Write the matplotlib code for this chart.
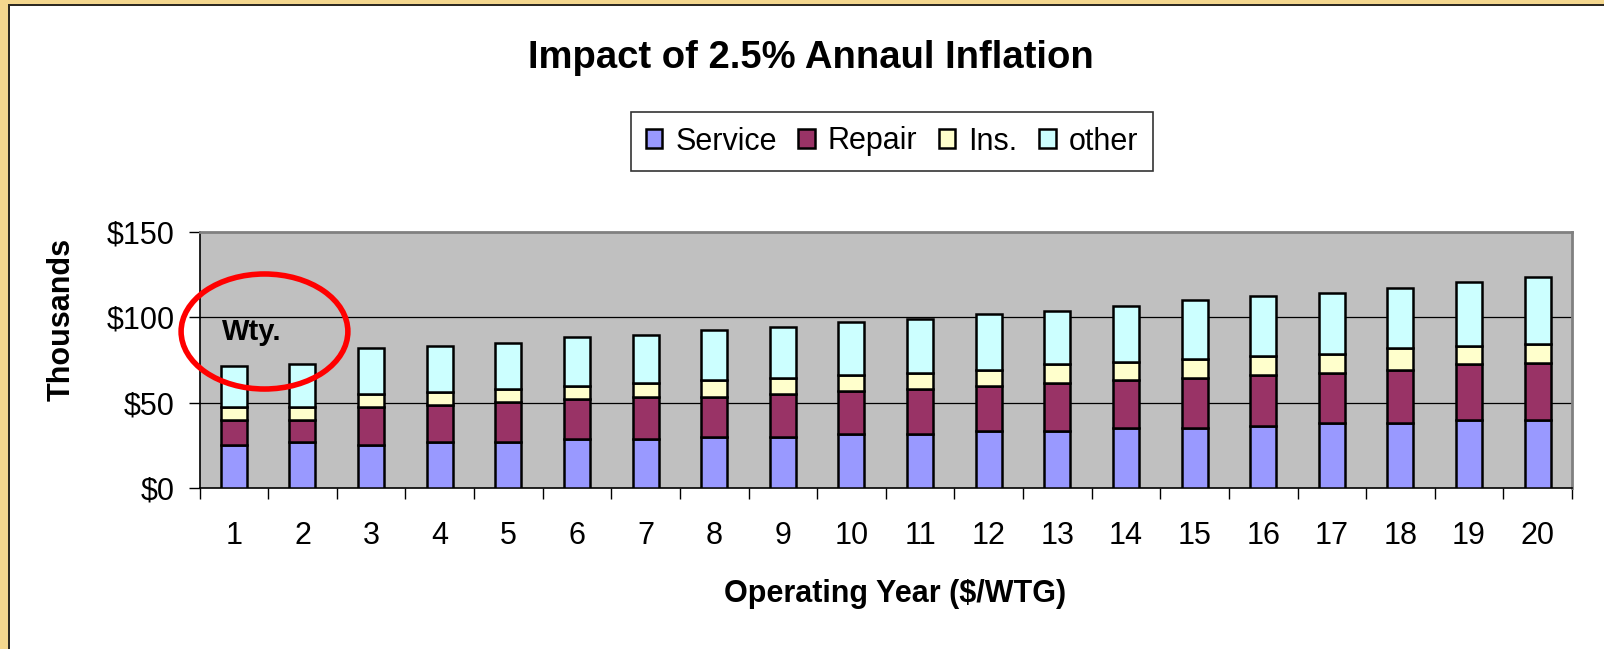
import matplotlib
matplotlib.use("Agg")
from matplotlib import pyplot as plt
from matplotlib.patches import Ellipse, Rectangle
import numpy as np

plt.rcParams["font.family"] = ["Liberation Sans", "DejaVu Sans"]

# Values (thousands of $ per WTG)
years = list(range(1, 21))
service = [25.4, 27.0, 25.4, 27.0, 27.0, 28.7, 28.7, 30.1, 30.1, 31.9,
           31.9, 33.6, 33.6, 35.0, 35.0, 36.6, 38.3, 38.3, 39.7, 39.7]
repair = [14.3, 12.7, 21.9, 21.9, 23.6, 23.3, 24.9, 23.5, 25.1, 24.8,
          26.4, 26.4, 28.0, 28.0, 29.6, 29.9, 29.2, 30.7, 32.7, 33.8]
ins = [7.6, 7.6, 7.9, 7.6, 7.5, 8.0, 7.8, 9.4, 9.4, 9.8,
       9.2, 9.4, 10.8, 10.9, 10.9, 10.7, 11.1, 12.9, 10.9, 11.0]
other = [23.9, 25.1, 26.7, 26.8, 26.8, 28.2, 28.2, 29.7, 29.7, 30.9,
         31.3, 32.3, 31.1, 32.7, 34.4, 35.5, 35.6, 35.5, 37.4, 39.1]
series_names = ["Service", "Repair", "Ins.", "other"]
series_colors = ["#9999FF", "#993366", "#FFFFCC", "#CCFFFF"]
ytick_values = [0, 50, 100, 150]
ytick_labels = ["$0", "$50", "$100", "$150"]

W, H = 1604, 649
fig = plt.figure(figsize=(W / 100, H / 100), dpi=100)
fig.patch.set_facecolor("white")

# frame strips (left and top)
tan = "#F4D78E"
fig.add_artist(Rectangle((0, 0), 8 / W, 1, transform=fig.transFigure, color=tan, lw=0))
fig.add_artist(Rectangle((0, 1 - 4 / H), 1, 4 / H, transform=fig.transFigure, color=tan, lw=0))
fig.add_artist(Rectangle((8 / W, 0), 2 / W, 1 - 4 / H, transform=fig.transFigure, color="#2E2A22", lw=0))
fig.add_artist(Rectangle((8 / W, 1 - 6 / H), 1 - 8 / W, 2 / H, transform=fig.transFigure, color="#2E2A22", lw=0))

ax = fig.add_axes([199.5 / W, 1 - 488 / H, (1572 - 199.5) / W, (488 - 232) / H])
ax.set_facecolor("#C0C0C0")

x = np.array(years)
bottom = np.zeros(len(years))
for name, vals, col in zip(series_names, [service, repair, ins, other], series_colors):
    ax.bar(x, vals, width=0.38, bottom=bottom, color=col, edgecolor="black",
           linewidth=1.8, label=name, zorder=3)
    bottom += np.array(vals)

ax.set_xlim(0.5, 20.5)
ax.set_ylim(0, 150)

# grid lines
for v in [50, 100]:
    ax.axhline(v, color="black", lw=0.9, zorder=1)

ax.set_yticks(ytick_values)
ax.set_yticklabels(ytick_labels, fontsize=22)
ax.tick_params(axis="y", direction="out", length=8, width=1, pad=10)

ax.set_xticks(x)
ax.set_xticklabels([str(y) for y in years], fontsize=22)
ax.tick_params(axis="x", which="major", length=0, pad=24)
ax.set_xticks(np.arange(0.5, 21, 1), minor=True)
ax.tick_params(axis="x", which="minor", direction="out", length=8, width=1)

for s in ["left", "bottom"]:
    ax.spines[s].set_color("black")
    ax.spines[s].set_linewidth(1.2)
for s in ["top", "right"]:
    ax.spines[s].set_color("#808080")
    ax.spines[s].set_linewidth(2)

# warranty marker
ax.add_patch(Ellipse((1.447, 91.7), 2.43, 67.4, fill=False, edgecolor="#FF0000",
                     lw=4, clip_on=False, zorder=5))
ax.text(1.265, 91.4, "Wty.", fontsize=21, fontweight="bold", ha="center",
        va="center", zorder=6)

fig.text(811 / W, 1 - 68 / H, "Impact of 2.5% Annaul Inflation", fontsize=27.5,
         fontweight="bold", ha="center", va="baseline")
fig.text(62 / W, 1 - 319 / H, "Thousands", fontsize=22, fontweight="bold",
         rotation=90, ha="center", va="center")
fig.text(895 / W, 1 - 594 / H, "Operating Year ($/WTG)", fontsize=22,
         fontweight="bold", ha="center", va="center")

leg = fig.legend(loc="center", bbox_to_anchor=(892 / W, 1 - 141.5 / H), ncol=4,
                 fontsize=22, frameon=True, fancybox=False, shadow=False,
                 handlelength=0.54, handleheight=0.6, handletextpad=0.43,
                 columnspacing=0.7, borderpad=0.48, borderaxespad=0)
leg.get_frame().set_edgecolor("black")
leg.get_frame().set_linewidth(1.2)

fig.savefig("out.png", dpi=100, facecolor="white")
